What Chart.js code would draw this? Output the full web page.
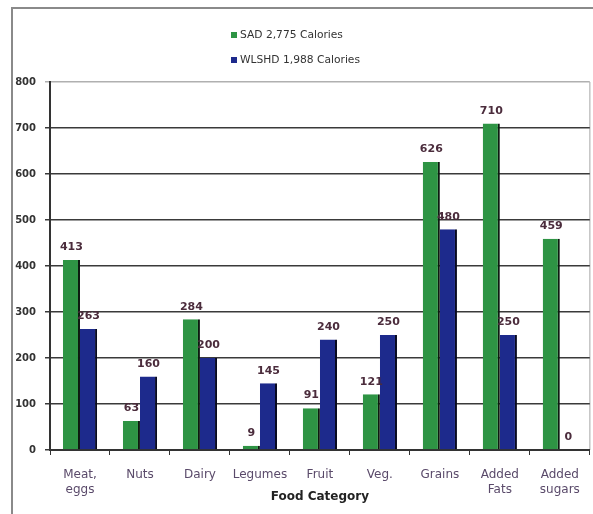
<!DOCTYPE html>
<html>
<head>
<meta charset="utf-8">
<script src="https://cdn.jsdelivr.net/npm/chart.js@4.4.1/dist/chart.umd.min.js"></script>
<style>
  html, body { margin: 0; padding: 0; background: #fff; }
  #wrap { width: 593px; height: 514px; position: relative; }
</style>
</head>
<body>
<div id="wrap"><canvas id="chart" width="593" height="514"></canvas></div>
<script>
const categories = [['Meat,', 'eggs'], 'Nuts', 'Dairy', 'Legumes', 'Fruit', 'Veg.', 'Grains', ['Added', 'Fats'], ['Added', 'sugars']];
const sadValues = [413, 63, 284, 9, 91, 121, 626, 710, 459];
const wlshdValues = [263, 160, 200, 145, 240, 250, 480, 250, 0];
const seriesNames = ['SAD 2,775 Calories', 'WLSHD 1,988 Calories'];
const yTicks = [0, 100, 200, 300, 400, 500, 600, 700, 800];

const GREEN = '#2e9444';
const BLUE = '#1d2a8c';

// frame lines and legend drawn by hand, legend is stacked like the original
const decor = {
    id: 'decor',
    beforeDraw(chart) {
        const c = chart.ctx;
        c.save();
        c.strokeStyle = '#8a8a8a';
        c.lineWidth = 2;
        c.beginPath();
        c.moveTo(12, 514);
        c.lineTo(12, 8);
        c.lineTo(593, 8);
        c.stroke();
        // light right edge of the plot box
        const a = chart.chartArea;
        c.strokeStyle = '#c4c4c4';
        c.lineWidth = 1.5;
        c.beginPath();
        c.moveTo(a.right, a.top);
        c.lineTo(a.right, a.bottom);
        c.stroke();
        c.restore();
    },
    afterDraw(chart) {
        const c = chart.ctx;
        c.save();
        c.font = '10.7px "DejaVu Sans"';
        c.textBaseline = 'middle';
        chart.data.datasets.forEach((ds, i) => {
            const y = 35 + i * 25;
            c.fillStyle = ds.backgroundColor;
            c.fillRect(231, y - 3, 6, 6);
            c.fillStyle = '#333';
            c.fillText(ds.label, 240, y);
        });
        c.restore();
    }
};

const valueLabels = {
    id: 'valueLabels',
    afterDatasetsDraw(chart) {
        const c = chart.ctx;
        c.save();
        c.font = 'bold 11px "DejaVu Sans"';
        c.fillStyle = '#4b2c3c';
        c.textAlign = 'center';
        c.textBaseline = 'bottom';
        chart.data.datasets.forEach((ds, i) => {
            chart.getDatasetMeta(i).data.forEach((bar, j) => {
                c.fillText(ds.data[j], bar.x, bar.y - 7);
            });
        });
        c.restore();
    }
};

new Chart(document.getElementById('chart'), {
    type: 'bar',
    data: {
        labels: categories,
        datasets: [
            {
                label: seriesNames[0],
                data: sadValues,
                backgroundColor: GREEN,
                borderColor: '#0c1a10',
                borderWidth: { right: 2, left: 0, top: 0, bottom: 0 },
                borderSkipped: false
            },
            {
                label: seriesNames[1],
                data: wlshdValues,
                backgroundColor: BLUE,
                borderColor: '#080a20',
                borderWidth: { right: 2, left: 0, top: 0, bottom: 0 },
                borderSkipped: false
            }
        ]
    },
    options: {
        responsive: false,
        animation: false,
        layout: { padding: { left: 12, right: 3, top: 82, bottom: 0 } },
        datasets: { bar: { categoryPercentage: 0.57, barPercentage: 1 } },
        plugins: {
            legend: { display: false },
            tooltip: { enabled: false }
        },
        scales: {
            x: {
                grid: { drawOnChartArea: false, offset: true, tickLength: 5, color: '#333' },
                border: { color: '#333', width: 2 },
                ticks: {
                    color: '#5a4a6a',
                    font: { family: 'DejaVu Sans', size: 12 },
                    padding: 13,
                    maxRotation: 0,
                    autoSkip: false
                },
                title: {
                    display: true,
                    text: 'Food Category',
                    color: '#222',
                    font: { family: 'DejaVu Sans', size: 12, weight: 'bold' },
                    padding: { top: 0, bottom: 10 }
                },
                afterFit(scale) { scale.height = 64; }
            },
            y: {
                min: 0,
                max: 800,
                afterBuildTicks(scale) { scale.ticks = yTicks.map(v => ({ value: v })); },
                grid: {
                    color: ctx => (ctx.tick && ctx.tick.value === 800) ? '#b0b0b0' : '#3a3a3a',
                    lineWidth: 1.5,
                    tickLength: 5
                },
                border: { color: '#333', width: 2 },
                ticks: {
                    color: '#333',
                    font: { family: 'DejaVu Sans', size: 10, weight: 'bold' },
                    padding: 9
                },
                afterFit(scale) { scale.width = 38; }
            }
        }
    },
    plugins: [decor, valueLabels]
});
</script>
</body>
</html>
